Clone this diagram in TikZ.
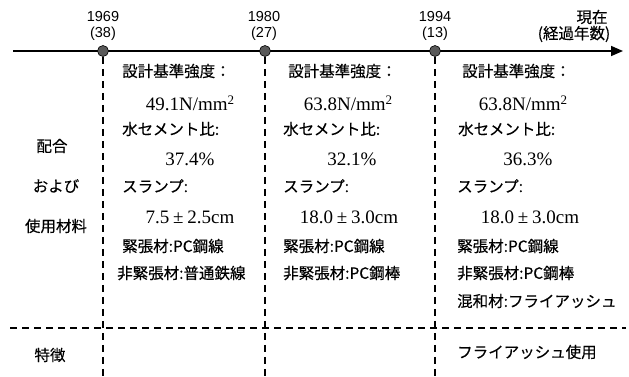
\documentclass[tikz,border=0pt]{standalone}
\usepackage{fontspec}
\setmainfont{Liberation Serif}
\newfontfamily\jp[FakeBold=0.3]{Noto Sans CJK JP}
\newfontfamily\yr{Liberation Sans}
\usetikzlibrary{arrows.meta}
\newcommand{\sqsup}{\raisebox{0.3em}{\fontsize{13}{13}\selectfont 2}}
\begin{document}
\begin{tikzpicture}[x=1pt,y=-1pt,
  jt/.style={font=\jp\fontsize{15.5}{17}\selectfont, inner sep=0pt, anchor=west},
  lt/.style={font=\jp\fontsize{15.5}{17}\selectfont, inner sep=0pt},
  num/.style={font=\fontsize{19}{21}\selectfont, inner sep=0pt},
  yrs/.style={font=\yr\fontsize{14.5}{16}\selectfont, inner sep=0pt},
  pt/.style={circle, draw=black, fill=black!65, minimum size=11pt, inner sep=0pt, line width=0.6pt},
  dsh/.style={line width=1.3pt, dash pattern=on 7pt off 5pt}]
\useasboundingbox (0,0) rectangle (629,376);
% axis
\coordinate (axL) at (13,51);
\coordinate (axR) at (623,51);
\draw[line width=1.6pt, -{Triangle[length=12pt,width=10pt]}] (axL) -- (axR);
% time points
\node[pt] (p1) at (103,51) {};
\node[pt] (p2) at (265,51) {};
\node[pt] (p3) at (435,51) {};
\coordinate (b1) at (103,376);
\coordinate (b2) at (265,376);
\coordinate (b3) at (435,376);
\draw[dsh] (p1.south) -- (b1);
\draw[dsh] (p2.south) -- (b2);
\draw[dsh] (p3.south) -- (b3);
\coordinate (hL) at (10,328);
\coordinate (hR) at (626,328);
\draw[dsh] (hL) -- (hR);
% year labels
\node[yrs] (y1) at (103,17) {1969};
\node[yrs] (y1b) at (103,34) {(38)};
\node[yrs] (y2) at (264,17) {1980};
\node[yrs] (y2b) at (264,34) {(27)};
\node[yrs] (y3) at (435,17) {1994};
\node[yrs] (y3b) at (435,34) {(13)};
\node[lt] (now) at (592,17) {現在};
\node[lt] (nowb) at (574,34) {(経過年数)};
% left labels
\node[lt] (l1) at (52,146) {配合};
\node[lt] (l2) at (56,186) {および};
\node[lt] (l3) at (56,226) {使用材料};
\node[lt] (l4) at (50,355) {特徴};
% column 1
\node[jt] (a1) at (122,71) {設計基準強度：};
\node[num] (a2) at (190,103) {49.1N/mm\sqsup};
\node[jt] (a3) at (122,129) {水セメント比:};
\node[num] (a4) at (190,159) {37.4\%};
\node[jt] (a5) at (122,186) {スランプ:};
\node[num] (a6) at (190,217) {7.5\hspace{0.2em}±\hspace{0.2em}2.5cm};
\node[jt] (a7) at (122,246) {緊張材:PC鋼線};
\node[jt] (a8) at (117,273) {非緊張材:普通鉄線};
% column 2
\node[jt] (c1) at (288,71) {設計基準強度：};
\node[num] (c2) at (348,103) {63.8N/mm\sqsup};
\node[jt] (c3) at (283,129) {水セメント比:};
\node[num] (c4) at (352,159) {32.1\%};
\node[jt] (c5) at (283,186) {スランプ:};
\node[num] (c6) at (349,217) {18.0\hspace{0.2em}±\hspace{0.2em}3.0cm};
\node[jt] (c7) at (283,246) {緊張材:PC鋼線};
\node[jt] (c8) at (283,273) {非緊張材:PC鋼棒};
% column 3
\node[jt] (d1) at (462,71) {設計基準強度：};
\node[num] (d2) at (523,103) {63.8N/mm\sqsup};
\node[jt] (d3) at (458,129) {水セメント比:};
\node[num] (d4) at (528,159) {36.3\%};
\node[jt] (d5) at (457,186) {スランプ:};
\node[num] (d6) at (530,217) {18.0\hspace{0.2em}±\hspace{0.2em}3.0cm};
\node[jt] (d7) at (457,246) {緊張材:PC鋼線};
\node[jt] (d8) at (457,273) {非緊張材:PC鋼棒};
\node[jt] (d9) at (457,301) {混和材:フライアッシュ};
\node[jt] (d10) at (457,352) {フライアッシュ使用};
\end{tikzpicture}
\end{document}
